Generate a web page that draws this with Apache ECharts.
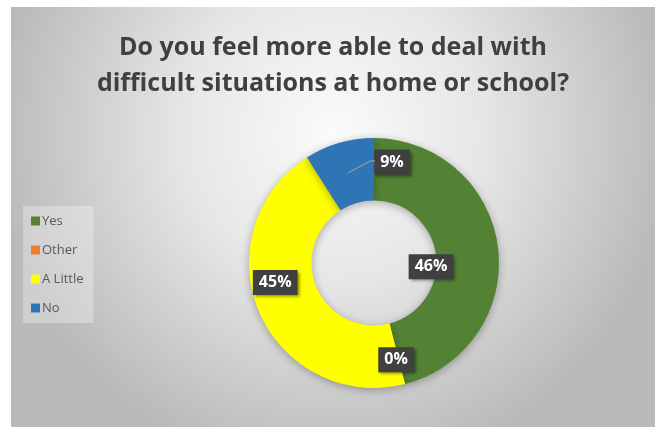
<!DOCTYPE html>
<html>
<head>
<meta charset="utf-8">
<script src="https://cdn.jsdelivr.net/npm/echarts@6/dist/echarts.min.js"></script>
<style>
html, body { margin: 0; padding: 0; background: #fff; }
#chart {
    position: absolute;
    left: 11px;
    top: 7px;
    width: 644px;
    height: 420px;
}
</style>
</head>
<body>
<div id="chart"></div>
<script>
var categories = ['Yes', 'Other', 'A Little', 'No'];
var percents = [46, 0, 45, 9];
var colors = ['#548235', '#ED7D31', '#FFFF00', '#2E75B6'];
// label nudges from the ring middle, like the hand-placed Excel labels
var labelShift = [[-39, 16], [-2, 3], [-10, -19], [45, -8]];

var pieCenter = [363, 256];
var pieRadius = [62.5, 125];
var labelFont = 'bold 16px "Open Sans"';
var labelPad = [5, 6, 4, 6];

var myChart = echarts.init(document.getElementById('chart'));

// middle of the ring at the middle angle of slice i (where the label sits before it is moved)
function ringMiddle(i) {
    var total = percents.reduce(function (a, b) { return a + b; }, 0);
    var before = 0;
    for (var k = 0; k < i; k++) before += percents[k];
    var ang = (before + percents[i] / 2) / total * 2 * Math.PI;
    var rm = (pieRadius[0] + pieRadius[1]) / 2;
    return [pieCenter[0] + rm * Math.sin(ang), pieCenter[1] - rm * Math.cos(ang)];
}

// leader line of the moved "No" label, from the ring middle to the box's left side
function leaderPoints(i) {
    var ctx = document.createElement('canvas').getContext('2d');
    ctx.font = labelFont;
    var w = ctx.measureText(percents[i] + '%').width + labelPad[1] + labelPad[3];
    var m = ringMiddle(i);
    var cx = m[0] + labelShift[i][0];
    var cy = m[1] + labelShift[i][1];
    var left = cx - w / 2;
    return [m, [left - 5, cy - 4], [left, cy - 4]];
}

var option = {
    backgroundColor: {
        type: 'radial',
        x: 0.5,
        y: 0.3,
        r: 0.8,
        colorStops: [
            { offset: 0, color: '#fbfbfb' },
            { offset: 0.45, color: '#e6e6e6' },
            { offset: 1, color: '#bababa' }
        ]
    },
    title: {
        text: 'Do you feel more able to deal with\ndifficult situations at home or school?',
        left: 'center',
        top: 18,
        textStyle: {
            fontFamily: 'Open Sans',
            fontWeight: 'bold',
            fontSize: 25,
            lineHeight: 36,
            color: '#404040'
        }
    },
    legend: {
        orient: 'vertical',
        left: 12,
        top: 199,
        padding: [8, 10, 8, 8],
        backgroundColor: 'rgba(255,255,255,0.3)',
        itemWidth: 9,
        itemHeight: 9,
        itemGap: 15,
        icon: 'rect',
        data: categories,
        textStyle: {
            fontFamily: 'Open Sans',
            fontSize: 13,
            lineHeight: 14,
            color: '#595959',
            padding: [0, 0, 0, -3]
        }
    },
    graphic: [{
        type: 'polyline',
        z: 100,
        silent: true,
        shape: { points: leaderPoints(3) },
        style: { stroke: '#a6a6a6', lineWidth: 1, fill: null }
    }],
    series: [{
        name: 'Answer',
        type: 'pie',
        center: pieCenter,
        radius: pieRadius,
        startAngle: 90,
        clockwise: true,
        avoidLabelOverlap: false,
        itemStyle: {
            shadowBlur: 8,
            shadowColor: 'rgba(0,0,0,0.3)',
            shadowOffsetY: 2
        },
        emphasis: { disabled: true },
        label: {
            show: true,
            position: 'inside',
            formatter: '{c}%',
            fontFamily: 'Open Sans',
            fontWeight: 'bold',
            fontSize: 16,
            color: '#ffffff',
            backgroundColor: '#404040',
            padding: labelPad,
            shadowBlur: 3,
            shadowOffsetX: 2,
            shadowOffsetY: 2,
            shadowColor: 'rgba(0,0,0,0.45)'
        },
        labelLine: { show: false },
        labelLayout: function (params) {
            var s = labelShift[params.dataIndex];
            return { dx: s[0], dy: s[1] };
        },
        data: categories.map(function (name, i) {
            return {
                name: name,
                value: percents[i],
                itemStyle: { color: colors[i] }
            };
        })
    }]
};

myChart.setOption(option);
</script>
</body>
</html>
